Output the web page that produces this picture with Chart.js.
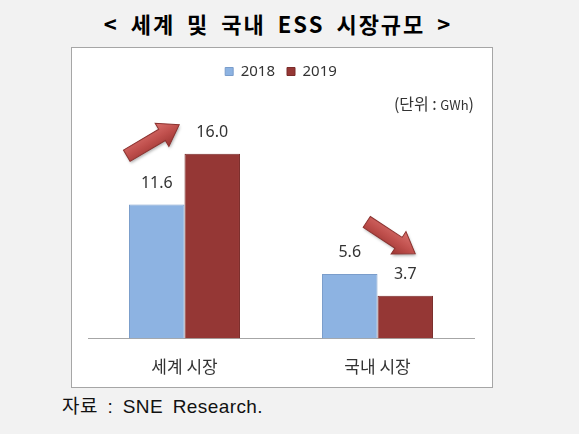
<!DOCTYPE html>
<html>
<head>
<meta charset="utf-8">
<script src="https://cdn.jsdelivr.net/npm/chart.js@4"></script>
<style>
  body { margin: 0; background: #f2f2f2; width: 579px; height: 434px; position: relative; overflow: hidden; font-family: "Noto Sans CJK KR", sans-serif; }
  #title { position: absolute; left: 0; width: 556px; top: 7px; text-align: center; font-size: 22px; font-weight: bold; color: #000; letter-spacing: 2px; word-spacing: 5px; }
  #box { position: absolute; left: 71px; top: 47px; width: 420px; height: 339px; border: 1px solid #a6a6a6; background: #fff; }
  #unit { position: absolute; right: 18px; top: 43px; font-size: 16px; color: #333; }
  #unit small { font-size: 13px; }
  #src { position: absolute; left: 62px; top: 391px; font-size: 19px; color: #111; font-family: "Liberation Sans", "Noto Sans CJK KR", sans-serif; letter-spacing: 0.4px; word-spacing: 4px; }
</style>
</head>
<body>
<div id="title">&lt; 세계 및 국내 ESS 시장규모 &gt;</div>
<div id="box">
  <canvas id="chart" width="420" height="339"></canvas>
  <div id="unit">(단위 : <small>GWh</small>)</div>
</div>
<div id="src">자료 : SNE Research.</div>
<script>
const categories = ['세계 시장', '국내 시장'];
const years = ['2018', '2019'];
const values2018 = [11.6, 5.6];
const values2019 = [16.0, 3.7];

// red arrows, placed from the bars: tail x/y, tip x/y
const arrowPlugin = {
  id: 'arrows',
  afterDatasetsDraw(chart) {
    const ctx = chart.ctx;
    const a = chart.getDatasetMeta(0).data;
    const b = chart.getDatasetMeta(1).data;
    const arrows = [
      [a[0].x - 30, b[0].y + 2, b[0].x - 33, b[0].y - 29],
      [a[1].x + 17, a[1].y - 52, b[1].x + 10, b[1].y - 42]
    ];
    arrows.forEach(([x1, y1, x2, y2]) => {
      const ang = Math.atan2(y2 - y1, x2 - x1);
      const len = Math.hypot(x2 - x1, y2 - y1);
      const hl = 20, sw = 6.5, hw = 13.5;
      ctx.save();
      ctx.translate(x1, y1);
      ctx.rotate(ang);
      ctx.shadowColor = 'rgba(0,0,0,0.3)';
      ctx.shadowBlur = 3;
      ctx.shadowOffsetX = 1;
      ctx.shadowOffsetY = 2;
      const g = ctx.createLinearGradient(0, -hw, 0, hw);
      g.addColorStop(0, '#d8706c');
      g.addColorStop(0.5, '#c0504d');
      g.addColorStop(1, '#9c3532');
      ctx.beginPath();
      ctx.moveTo(0, -sw);
      ctx.lineTo(len - hl, -sw);
      ctx.lineTo(len - hl, -hw);
      ctx.lineTo(len, 0);
      ctx.lineTo(len - hl, hw);
      ctx.lineTo(len - hl, sw);
      ctx.lineTo(0, sw);
      ctx.closePath();
      ctx.fillStyle = g;
      ctx.fill();
      ctx.shadowColor = 'transparent';
      ctx.strokeStyle = '#8c3330';
      ctx.lineWidth = 1;
      ctx.stroke();
      ctx.restore();
    });
  }
};

const valueLabels = {
  id: 'valueLabels',
  afterDatasetsDraw(chart) {
    const ctx = chart.ctx;
    ctx.save();
    ctx.font = '16px "Noto Sans", sans-serif';
    ctx.fillStyle = '#333';
    ctx.textAlign = 'center';
    ctx.textBaseline = 'middle';
    chart.data.datasets.forEach((ds, i) => {
      chart.getDatasetMeta(i).data.forEach((bar, j) => {
        ctx.fillText(ds.data[j].toFixed(1), bar.x, bar.y - 21);
      });
    });
    ctx.restore();
  }
};

new Chart(document.getElementById('chart'), {
  type: 'bar',
  data: {
    labels: categories,
    datasets: [
      { label: years[0], data: values2018, backgroundColor: '#8db3e2', borderColor: '#7a9dcb', borderWidth: 1 },
      { label: years[1], data: values2019, backgroundColor: '#953735', borderColor: '#7a2c2a', borderWidth: 1 }
    ]
  },
  options: {
    responsive: false,
    animation: false,
    layout: { padding: { left: 16, right: 18, top: 4, bottom: -8 } },
    datasets: { bar: { categoryPercentage: 0.575, barPercentage: 1 } },
    plugins: {
      legend: {
        position: 'top',
        labels: {
          boxWidth: 8, boxHeight: 8, padding: 12,
          color: '#333',
          font: { family: '"Noto Sans", sans-serif', size: 15 }
        }
      },
      tooltip: { enabled: false }
    },
    scales: {
      x: {
        grid: { display: false, drawTicks: false },
        border: { display: true, color: '#a6a6a6', width: 1 },
        ticks: { padding: 18, color: '#333', font: { family: '"Noto Sans CJK KR", sans-serif', size: 17 } }
      },
      y: { display: false, min: 0, max: 21.6 }
    }
  },
  plugins: [arrowPlugin, valueLabels]
});
</script>
</body>
</html>
